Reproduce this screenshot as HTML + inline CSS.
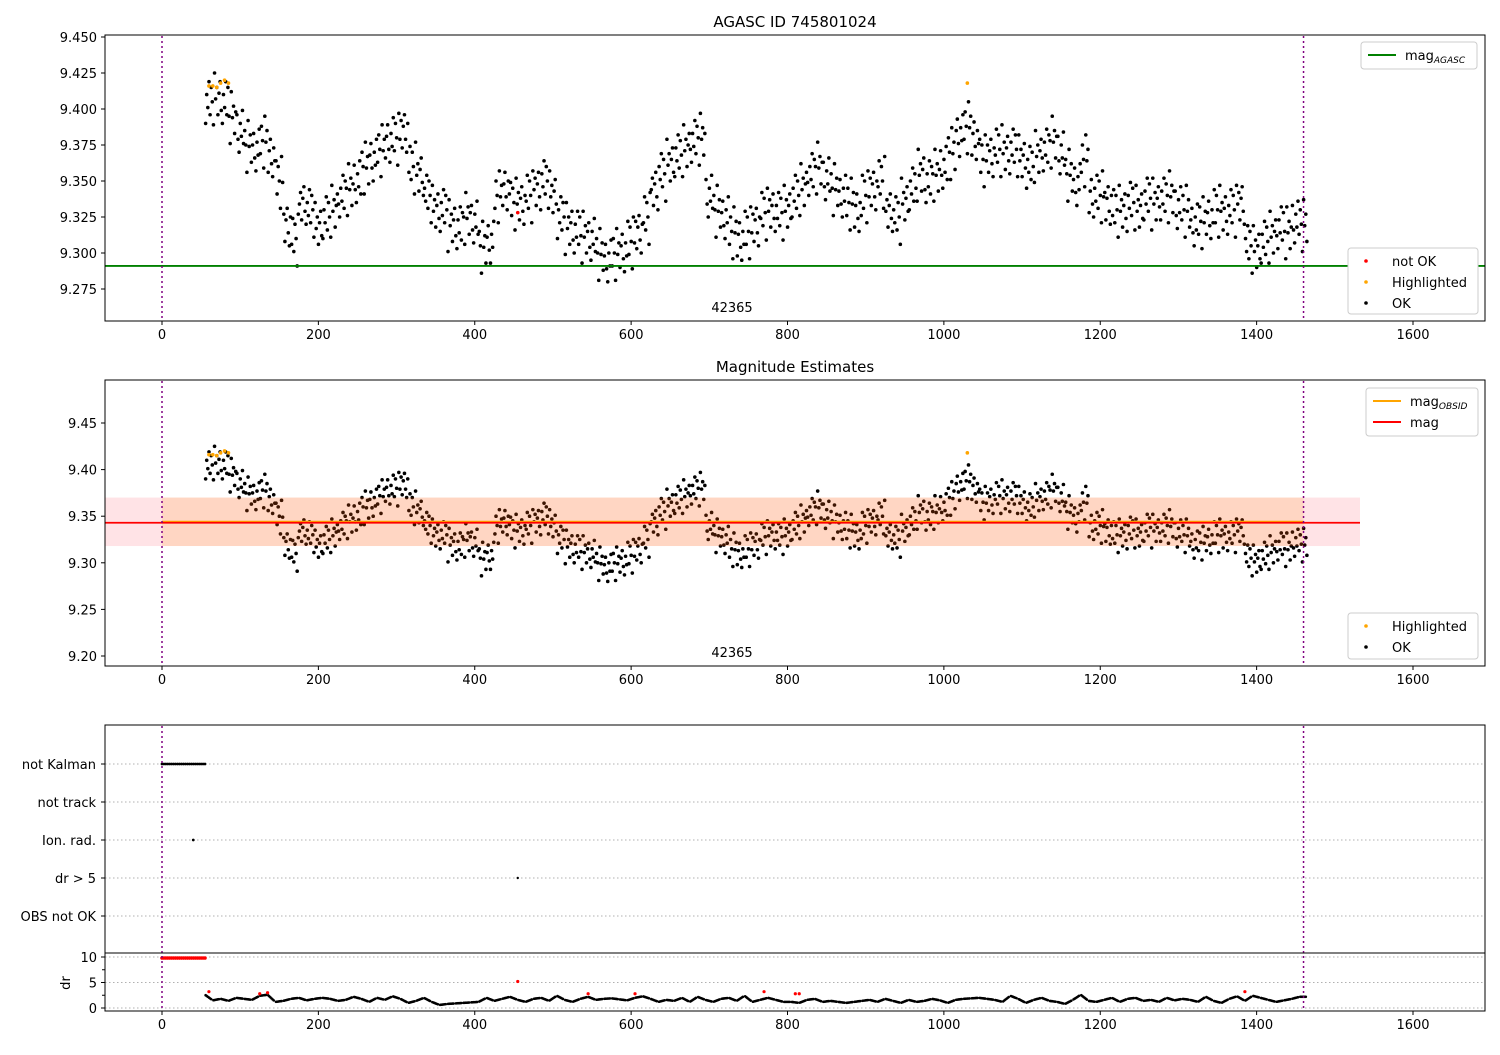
<!DOCTYPE html>
<html><head><meta charset="utf-8"><style>
body{margin:0;background:#fff;font-family:"Liberation Sans","DejaVu Sans",sans-serif;}
svg text{font-family:"DejaVu Sans","Liberation Sans",sans-serif;font-size:13px;fill:#000}
svg text.ttl{font-size:15px}
svg tspan.sub{font-size:9px}
</style></head><body>
<svg id="chart" width="1500" height="1050" xmlns="http://www.w3.org/2000/svg"></svg>
<script>
const times = [];
const mags = [9.405,9.408,9.405,9.395,9.385,9.375,9.372,9.378,9.368,9.350,9.320,9.310,9.335,9.330,9.318,9.325,9.330,9.340,9.345,9.350,9.360,9.365,9.372,9.378,9.380,9.385,9.360,9.355,9.340,9.330,9.330,9.320,9.318,9.325,9.322,9.305,9.308,9.340,9.345,9.335,9.335,9.340,9.345,9.350,9.340,9.325,9.318,9.315,9.312,9.310,9.300,9.295,9.300,9.302,9.308,9.315,9.325,9.345,9.355,9.362,9.368,9.372,9.378,9.380,9.340,9.330,9.325,9.315,9.310,9.315,9.320,9.328,9.330,9.328,9.330,9.340,9.345,9.355,9.360,9.352,9.345,9.340,9.335,9.330,9.340,9.345,9.350,9.330,9.325,9.335,9.345,9.355,9.350,9.355,9.360,9.370,9.382,9.388,9.380,9.365,9.368,9.372,9.370,9.372,9.365,9.360,9.368,9.372,9.378,9.370,9.355,9.348,9.365,9.340,9.340,9.335,9.330,9.330,9.335,9.330,9.338,9.335,9.338,9.340,9.332,9.330,9.320,9.322,9.325,9.330,9.328,9.330,9.335,9.305,9.302,9.308,9.312,9.318,9.315,9.322,9.320];
for(let i=0;i<mags.length;i++) times.push(60+10*i);
const scatterOffsets = [-0.015,0.005,-0.004,0.014,-0.009,0.010,0.000,-0.019,0.017,-0.001,0.007,-0.012,0.003,0.011,-0.006];
const scatterShift = [-4.2,-2.8,-1.4,0.1,1.5,2.9,4.3];
const highlightT = [60,65,70,75,80,85,1030];
const highlightM = [9.416,9.416,9.415,9.418,9.420,9.418,9.418];
const drVals = [2.6,1.5,1.8,1.4,2.0,1.8,1.6,2.4,2.6,1.2,1.4,1.8,2.0,1.5,1.8,2.0,1.8,1.4,1.6,2.2,1.8,1.2,2.0,1.6,2.3,1.8,1.0,1.4,2.0,1.2,0.6,0.8,0.9,1.0,1.1,1.2,2.0,1.4,1.8,2.2,1.6,1.2,1.8,2.0,1.4,2.4,1.6,1.2,1.8,2.2,1.6,1.8,1.9,1.7,1.5,2.0,2.3,1.8,1.2,1.6,1.4,2.0,1.2,2.2,1.6,1.2,1.8,2.0,1.4,2.4,1.2,1.6,2.0,1.6,1.2,1.2,1.0,1.6,1.8,1.2,1.4,1.2,1.0,1.2,1.4,1.6,1.2,1.8,1.4,1.0,1.6,1.2,1.4,1.8,1.5,1.0,1.6,1.8,1.9,2.0,1.8,1.6,1.2,2.4,1.8,1.0,1.6,2.0,1.4,1.2,0.8,1.6,2.6,1.4,1.2,1.6,2.0,1.2,1.8,2.0,1.4,1.6,1.2,2.0,1.5,1.8,1.6,1.2,2.2,1.4,1.0,1.8,2.3,1.4,2.4,2.0,1.6,1.2,1.5,1.8,2.2];
const drRedT = [60,125,135,455,545,605,770,810,815,1385];
const drRedV = [3.2,2.8,3.0,5.2,2.8,2.8,3.2,2.8,2.8,3.2];
const kalmanT = [];
for(let t=0;t<=55;t+=2.5) kalmanT.push(t);
const xTicks = [0,200,400,600,800,1000,1200,1400,1600];
const y1Ticks = [9.275,9.300,9.325,9.350,9.375,9.400,9.425,9.450];
const y2Ticks = [9.20,9.25,9.30,9.35,9.40,9.45];
const cats = ["not Kalman","not track","Ion. rad.","dr > 5","OBS not OK"];
const drTicks = [0,5,10];
const magAgasc = 9.291, magObs = 9.343, magLo = 9.318, magHi = 9.370;

const svg = document.getElementById('chart');
const NS = 'http://www.w3.org/2000/svg';
function el(tag, attrs, parent){const e=document.createElementNS(NS,tag);for(const k in attrs)e.setAttribute(k,attrs[k]);(parent||svg).appendChild(e);return e;}
const X = t => 162 + t*1251/1600;
const Y1 = m => 37 + (9.45-m)*1440;
const Y2 = m => 656 - (m-9.20)*932;
const Ydr = d => 1008 - d*5.1;

function frame(y0,y1,name){
  const r=el('rect',{x:105,y:y0,width:1380,height:y1-y0,fill:'none',stroke:'#000','stroke-width':1});
  
  
}
function xAxis(yb,name){
  const g=el('g',{});
  
  
  xTicks.forEach(t=>{el('line',{x1:X(t),x2:X(t),y1:yb,y2:yb+4,stroke:'#000'},g);
    const tx=el('text',{x:X(t),y:yb+18,'text-anchor':'middle'},g);tx.textContent=t;});
}
function yAxis(ticks,Y,fmt,name){
  const g=el('g',{});
  
  
  ticks.forEach(v=>{el('line',{x1:101,x2:105,y1:Y(v),y2:Y(v),stroke:'#000'},g);
    const tx=el('text',{x:97,y:Y(v)+5,'text-anchor':'end'},g);tx.textContent=v.toFixed(fmt);});
}
function dot(x,y,fill,r,g){if(!isFinite(x)||!isFinite(y))return;el('circle',{cx:x,cy:y,r:r||1.8,fill:fill},g);}
function vlines(y0,y1){[0,1460].forEach(t=>el('line',{x1:X(t),x2:X(t),y1:y0,y2:y1,stroke:'#800080','stroke-width':1.5,'stroke-dasharray':'2,3'}));}
function scatter(Y,g){
  let k=0;
  times.forEach((t,i)=>{
    for(let j=0;j<scatterShift.length;j++){
      const m=mags[i]+scatterOffsets[(k++)%scatterOffsets.length];
      dot(X(t+scatterShift[j]),Y(m),'#000',1.8,g);
    }
  });
  highlightT.forEach((t,i)=>dot(X(t),Y(highlightM[i]),'orange',1.8,g));
}
function title(txt,y,name){const t=el('text',{x:795,y:y,'text-anchor':'middle','class':'ttl'});t.textContent=txt;}
function legendBox(x,y,w,h,items,name){
  const g=el('g',{});
  
  
  el('rect',{x:x,y:y,width:w,height:h,fill:'#fff',stroke:'#ccc',rx:3},g);
  items.forEach((it,i)=>{
    const cy=y+13+i*21;
    if(it.line) el('line',{x1:x+7,x2:x+35,y1:cy,y2:cy,stroke:it.c,'stroke-width':2},g);
    else dot(x+18,cy,it.c,1.8,g);
    const t=el('text',{x:x+44,y:cy+5},g);t.textContent=it.t;
    if(it.sub){const s=el('tspan',{'class':'sub',dy:3,'font-style':'italic'},t);s.textContent=it.sub;}
  });
}

// ---- Plot 1
title('AGASC ID 745801024',27,'top-title');
const g1=el('g',{});
scatter(Y1,g1);
el('line',{x1:105,x2:1485,y1:Y1(magAgasc),y2:Y1(magAgasc),stroke:'green','stroke-width':1.8});
dot(X(455),Y1(9.328),'red',1.8);
vlines(36,321);
frame(35,321,'top-axes');
xAxis(321,'top-x-axis');
yAxis(y1Ticks,Y1,3,'top-y-axis');
el('text',{x:732,y:312,'text-anchor':'middle'}).textContent='42365';
legendBox(1361,42,116,27,[{c:'green',line:1,t:'mag',sub:'AGASC'}],'top-legend-mag');
legendBox(1348,248,130,66,[{c:'red',t:'not OK'},{c:'orange',t:'Highlighted'},{c:'#000',t:'OK'}],'top-legend-status');

// ---- Plot 2
title('Magnitude Estimates',372,'middle-title');
const g2=el('g',{});
scatter(Y2,g2);
el('rect',{x:105,y:Y2(magHi),width:1360-105,height:Y2(magLo)-Y2(magHi),fill:'rgba(255,0,30,0.11)'});
el('rect',{x:X(0),y:Y2(magHi),width:X(1460)-X(0),height:Y2(magLo)-Y2(magHi),fill:'rgba(255,140,0,0.15)'});
el('line',{x1:X(0),x2:X(1460),y1:Y2(magObs)-1,y2:Y2(magObs)-1,stroke:'orange','stroke-width':2});
el('line',{x1:105,x2:1360,y1:Y2(magObs),y2:Y2(magObs),stroke:'red','stroke-width':1.8});
vlines(381,666);
frame(380,666,'middle-axes');
xAxis(666,'middle-x-axis');
yAxis(y2Ticks,Y2,2,'middle-y-axis');
el('text',{x:732,y:657,'text-anchor':'middle'}).textContent='42365';
legendBox(1366,388,112,48,[{c:'orange',line:1,t:'mag',sub:'OBSID'},{c:'red',line:1,t:'mag'}],'middle-legend-mag');
legendBox(1348,613,130,46,[{c:'orange',t:'Highlighted'},{c:'#000',t:'OK'}],'middle-legend-status');

// ---- Plot 3
const catY = i => 764 + i*38;
cats.forEach((c,i)=>{
  el('line',{x1:105,x2:1485,y1:catY(i),y2:catY(i),stroke:'#b0b0b0','stroke-dasharray':'1.5,2.5'});
  el('line',{x1:101,x2:105,y1:catY(i),y2:catY(i),stroke:'#000'});
  const t=el('text',{x:96,y:catY(i)+5,'text-anchor':'end'});t.textContent=c;
});
drTicks.forEach(d=>{
  el('line',{x1:105,x2:1485,y1:Ydr(d),y2:Ydr(d),stroke:'#b0b0b0','stroke-dasharray':'1.5,2.5'});
  el('line',{x1:101,x2:105,y1:Ydr(d),y2:Ydr(d),stroke:'#000'});
  const t=el('text',{x:97,y:Ydr(d)+5,'text-anchor':'end'});t.textContent=d;
});
[2.5,7.5].forEach(d=>el('line',{x1:102,x2:105,y1:Ydr(d),y2:Ydr(d),stroke:'#000'}));
const dl=el('text',{x:70,y:983,'text-anchor':'middle',transform:'rotate(-90 70 983)'});dl.textContent='dr';
const g3=el('g',{});
kalmanT.forEach(t=>{dot(X(t),catY(0),'#000',1.4,g3);dot(X(t),Ydr(9.8),'red',1.8,g3);});
dot(X(40),catY(2),'#000',1.4,g3);
dot(X(455),catY(3),'#000',1.2,g3);
times.forEach((t,i)=>{
  if(drVals[i]===undefined) return;
  const nx = drVals[i+1]!==undefined ? drVals[i+1] : drVals[i];
  for(let j=0;j<6;j++){const v=drVals[i]+(nx-drVals[i])*(scatterShift[j]+5)/10;dot(X(t+scatterShift[j]),Ydr(v),'#000',1.3,g3);}
});
drRedT.forEach((t,i)=>dot(X(t),Ydr(drRedV[i]),'red',1.6,g3));
vlines(726,1011);
frame(725,1011,'bottom-axes');
el('line',{x1:105,x2:1485,y1:953,y2:953,stroke:'#000'});
xAxis(1011,'bottom-x-axis');
</script>
</body></html>
